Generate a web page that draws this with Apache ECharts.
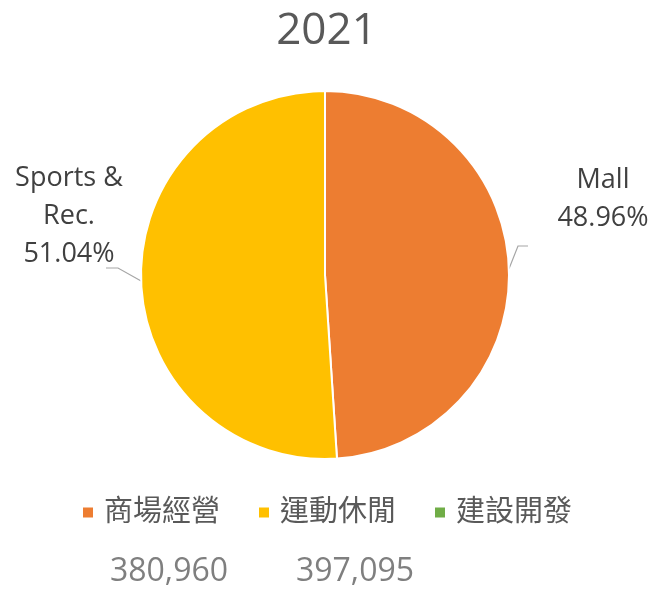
<!DOCTYPE html>
<html>
<head>
<meta charset="utf-8">
<script src="https://cdn.jsdelivr.net/npm/echarts@6/dist/echarts.min.js"></script>
<style>
	html, body { margin: 0; padding: 0; background: #fff; }
	#chart { width: 653px; height: 590px; }
</style>
</head>
<body>
<div id="chart"></div>
<script>
	// 資料
	var categories = ['商場經營', '運動休閒', '建設開發'];
	var values = [380960, 397095, 0];
	var labelNames = ['Mall', 'Sports &\nRec.', ''];
	var colors = ['#ED7D31', '#FFC000', '#70AD47'];
	var titleText = '2021';

	var fontFam = "'Open Sans', 'Noto Sans CJK TC', sans-serif";

	var total = values.reduce(function (a, b) { return a + b; }, 0);

	var pieData = [];
	for (var i = 0; i < categories.length; i++) {
		pieData.push({
			name: categories[i],
			value: values[i],
			label: { show: values[i] > 0 },
			labelLine: { show: values[i] > 0 }
		});
	}

	// 標籤位置 + 引導線折點
	var labelPos = [[603, 199], [69, 216]];
	var lineBend = [[[518, 246], [528, 246]], [[118, 268], [106, 268]]];

	// 數值文字 (圖例下方)
	var valueTexts = [];
	var valueX = [169, 355];
	for (var k = 0; k < values.length; k++) {
		if (!values[k]) continue;
		valueTexts.push({
			type: 'text',
			x: valueX[k],
			y: 572,
			style: {
				text: values[k].toLocaleString('en-US'),
				fill: '#7F7F7F',
				font: '32px ' + fontFam,
				textAlign: 'center',
				textVerticalAlign: 'middle'
			}
		});
	}

	var myChart = echarts.init(document.getElementById('chart'));
	var option = {
		animation: false,
		color: colors,
		title: {
			text: titleText,
			left: 'center',
			top: 4,
			textStyle: {
				fontSize: 44,
				fontWeight: 'normal',
				color: '#595959',
				fontFamily: fontFam
			}
		},
		legend: {
			data: categories,
			bottom: 58,
			left: 'center',
			icon: 'rect',
			itemWidth: 12,
			itemHeight: 12,
			itemGap: 37,
			textStyle: {
				fontSize: 29,
				color: '#595959',
				fontFamily: fontFam,
				padding: [0, 0, 0, 5]
			}
		},
		graphic: valueTexts,
		series: [{
			type: 'pie',
			center: [325, 275],
			radius: 184,
			startAngle: 90,
			clockwise: true,
			data: pieData,
			itemStyle: {
				borderColor: '#fff',
				borderWidth: 2
			},
			label: {
				show: true,
				formatter: function (p) {
					return labelNames[p.dataIndex] + '\n' + (p.value / total * 100).toFixed(2) + '%';
				},
				fontSize: 27,
				lineHeight: 38,
				color: '#404040',
				fontFamily: fontFam,
				align: 'center',
				overflow: 'none'
			},
			labelLine: {
				show: true,
				lineStyle: { color: '#A6A6A6', width: 1.2 }
			},
			labelLayout: function (params) {
				var pos = labelPos[params.dataIndex];
				if (!pos) return {};
				var res = { x: pos[0], y: pos[1], align: 'center', verticalAlign: 'middle' };
				if (params.labelLinePoints) {
					var b = lineBend[params.dataIndex];
					res.labelLinePoints = [params.labelLinePoints[0], b[0], b[1]];
				}
				return res;
			}
		}]
	};
	myChart.setOption(option);
</script>
</body>
</html>
